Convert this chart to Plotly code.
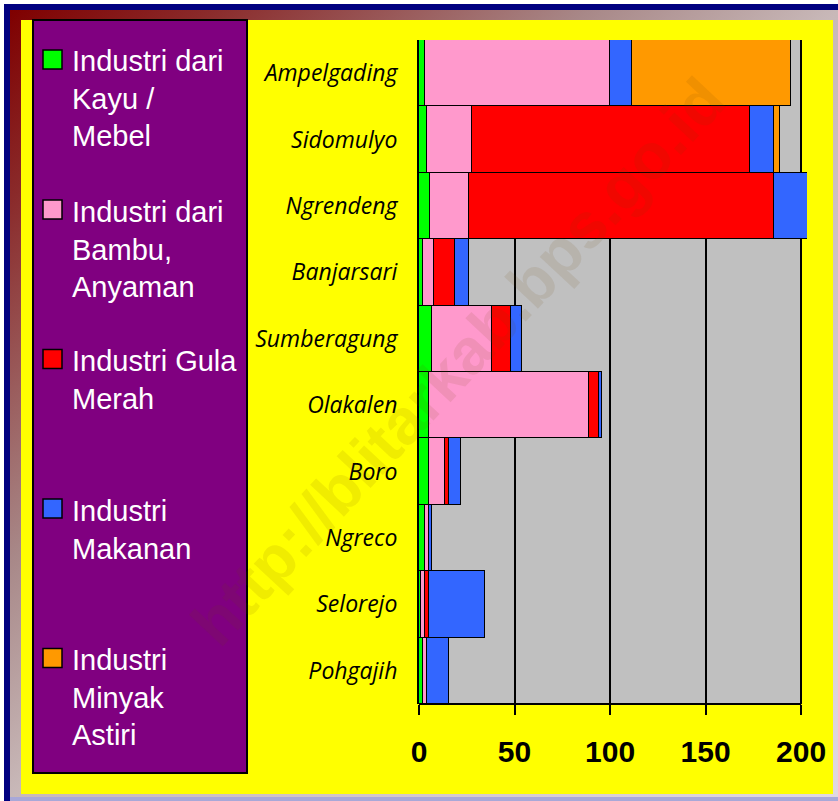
import base64
import plotly.graph_objects as go

# ---------------- data ----------------
villages = ["Ampelgading", "Sidomulyo", "Ngrendeng", "Banjarsari", "Sumberagung",
            "Olakalen", "Boro", "Ngreco", "Selorejo", "Pohgajih"]
kayu_mebel = [3, 4, 6, 2, 7, 5, 5, 3, 1, 2]
bambu_anyaman = [97, 24, 20, 6, 31, 84, 8.5, 2, 2, 2]
gula_merah = [0, 145, 160, 11, 10, 5, 2, 0, 2, 0]
makanan = [11.5, 13, 18, 7, 6, 2, 6.5, 2, 29.5, 11.5]
minyak_astiri = [83, 3, 0, 0, 0, 0, 0, 0, 0, 0]

series_names = ["Industri dari<br>Kayu /<br>Mebel",
                "Industri dari<br>Bambu,<br>Anyaman",
                "Industri Gula<br>Merah",
                "Industri<br>Makanan",
                "Industri<br>Minyak<br>Astiri"]
series_values = [kayu_mebel, bambu_anyaman, gula_merah, makanan, minyak_astiri]
series_colors = ["#00FF00", "#FF99CC", "#FF0000", "#3366FF", "#FF9900"]
x_ticks = [0, 50, 100, 150, 200]
watermark = "http://blitarkab.bps.go.id"

# ---------------- geometry ----------------
FW, FH = 838, 801
L, R, T, B = 419, 31, 40, 97
PW, PH = FW - L - R, FH - T - B


def px(x):
    return (x - L) / PW


def py(y):
    return (FH - B - y) / PH


fig = go.Figure()
for name, vals, col in zip(series_names, series_values, series_colors):
    fig.add_trace(go.Bar(
        y=villages, x=vals, orientation="h", name=name,
        marker=dict(color=col, line=dict(color="black", width=1.5)),
        showlegend=False,
    ))

# background frame as an SVG gradient image
svg = (
    f'<svg xmlns="http://www.w3.org/2000/svg" width="{FW}" height="{FH}" '
    f'viewBox="0 0 {FW} {FH}" preserveAspectRatio="none">'
    '<defs><linearGradient id="g" x1="0" y1="0" x2="1" y2="1">'
    '<stop offset="0" stop-color="#7f0000"/>'
    '<stop offset="0.12" stop-color="#8a2a2a"/>'
    '<stop offset="0.35" stop-color="#a88888"/>'
    '<stop offset="0.5" stop-color="#c8b8b8"/>'
    '<stop offset="1" stop-color="#e0d8e0"/>'
    '</linearGradient></defs>'
    f'<rect width="{FW}" height="{FH}" fill="#ffffff"/>'
    f'<rect x="4" y="4" width="{FW-4}" height="{FH-4}" fill="#000080"/>'
    f'<rect x="10" y="10" width="{FW-10}" height="787" fill="url(#g)"/>'
    f'<rect x="10" y="797" width="{FW-10}" height="4" fill="#a8a8d8"/>'
    '<rect x="21" y="20" width="812" height="774" fill="#ffff00"/>'
    '</svg>'
)
src = "data:image/svg+xml;base64," + base64.b64encode(svg.encode()).decode()
fig.add_layout_image(dict(
    source=src, xref="paper", yref="paper", x=px(0), y=py(0),
    sizex=FW / PW, sizey=FH / PH, xanchor="left", yanchor="top",
    sizing="stretch", layer="below",
))

shapes = []
# gray plotting area up to 200
shapes.append(dict(type="rect", xref="x", yref="paper", x0=0, x1=200, y0=0, y1=1,
                   fillcolor="#C0C0C0", line=dict(width=0), layer="below"))
# bottom axis line
shapes.append(dict(type="line", xref="x", yref="paper", x0=0, x1=200, y0=0, y1=0,
                   line=dict(color="black", width=2), layer="above"))
# legend box
shapes.append(dict(type="rect", xref="paper", yref="paper",
                   x0=px(33), x1=px(247), y0=py(773), y1=py(20),
                   fillcolor="#800080", line=dict(color="black", width=2), layer="below"))

annotations = []
sq_centers = [59.5, 209.5, 359, 508.5, 658]
for c, col, name in zip(sq_centers, series_colors, series_names):
    shapes.append(dict(type="rect", xref="paper", yref="paper",
                       x0=px(43), x1=px(62), y0=py(c + 9.5), y1=py(c - 9.5),
                       fillcolor=col, line=dict(color="black", width=1.5), layer="above"))
    annotations.append(dict(
        xref="paper", yref="paper", x=px(70), y=py(c - 16), xanchor="left", yanchor="top",
        text=name, showarrow=False, align="left",
        font=dict(family="Liberation Sans, Arial", size=29, color="white"),
    ))

annotations.append(dict(
    xref="paper", yref="paper", x=px(458), y=py(362), xanchor="center", yanchor="middle",
    text=watermark, showarrow=False, textangle=-47,
    font=dict(family="Liberation Sans, Arial", size=64, color="rgba(110,70,0,0.10)", weight="bold"),
))

fig.update_layout(
    width=FW, height=FH,
    margin=dict(l=L, r=R, t=T, b=B, pad=0),
    barmode="stack", bargap=0,
    paper_bgcolor="#ffffff", plot_bgcolor="rgba(0,0,0,0)",
    shapes=shapes, annotations=annotations,
    showlegend=False,
)
fig.update_xaxes(
    range=[0, 203.1], tickvals=x_ticks, ticktext=[str(v) for v in x_ticks],
    showgrid=True, gridcolor="black", gridwidth=2, zeroline=False,
    showline=False, ticks="outside", ticklen=10, tickwidth=2, tickcolor="black",
    ticklabelstandoff=11,
    tickfont=dict(family="Liberation Sans, Arial", size=30, color="black", weight="bold"),
)
fig.update_yaxes(
    categoryorder="array", categoryarray=villages, autorange="reversed",
    showgrid=False, zeroline=False, showline=True, linecolor="black", linewidth=2,
    ticks="", ticklabelstandoff=15,
    tickfont=dict(family="Open Sans", size=23, color="black", style="italic"),
)

fig.write_html(
    "out.html",
    config={"displayModeBar": False},
    post_script="document.body.style.margin='0';document.body.style.overflow='hidden';",
)
